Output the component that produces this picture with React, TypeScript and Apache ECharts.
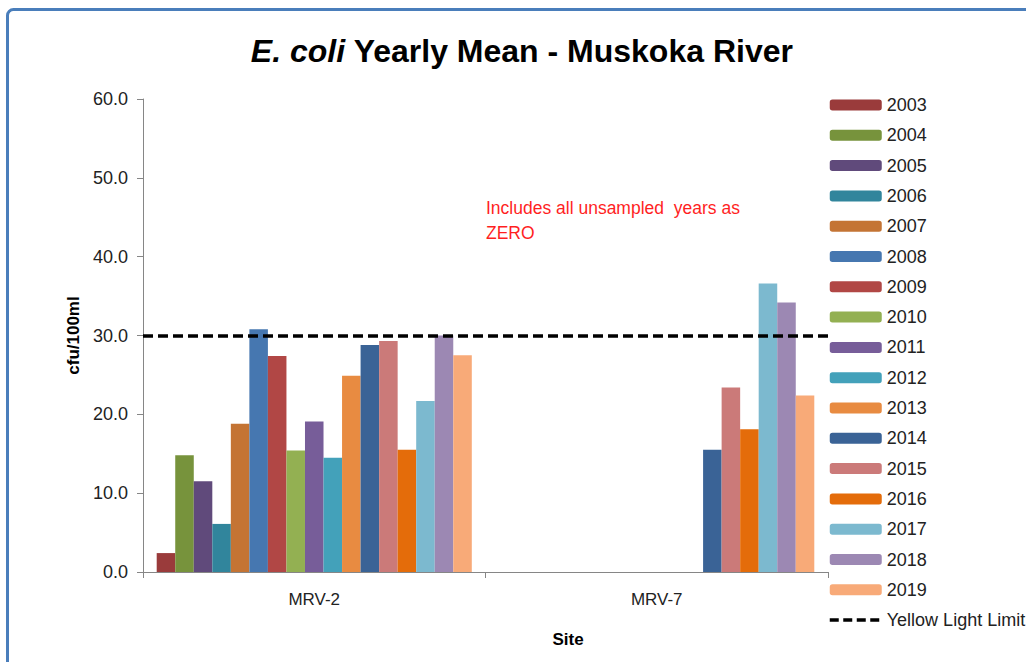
import React, { useEffect, useRef } from "react";
import * as echarts from "echarts";

const sites = ["MRV-2", "MRV-7"];
const years = ["2003","2004","2005","2006","2007","2008","2009","2010","2011","2012","2013","2014","2015","2016","2017","2018","2019"];
const mrv2 = [2.4, 14.8, 11.5, 6.1, 18.8, 30.8, 27.4, 15.4, 19.1, 14.5, 24.9, 28.8, 29.3, 15.5, 21.7, 30.0, 27.5];
const mrv7 = [0, 0, 0, 0, 0, 0, 0, 0, 0, 0, 0, 15.5, 23.4, 18.1, 36.6, 34.2, 22.4];
const colors = ["#9a3b3b","#77933c","#604a7b","#31859c","#c47434","#4677b0","#b14745","#93b052","#775d99","#43a1ba","#e88b41","#3a6396","#cb7a79","#e46c0a","#7cb9cf","#9c88b3","#f8aa78"];
const limitName = "Yellow Light Limit";
const limitValue = 30;
const yTicks = { min: 0, max: 60, interval: 10 };

const FONT = "'Liberation Sans', Arial, sans-serif";

export default function App() {
  const ref = useRef<HTMLDivElement>(null);
  useEffect(() => {
    if (!ref.current) return;
    const chart = echarts.init(ref.current, null, { renderer: "svg" });
    const barSeries = years.map((y, i) => ({
      name: y,
      type: "bar",
      data: [mrv2[i], mrv7[i]],
      barGap: "0%",
      barCategoryGap: "8%",
      itemStyle: { color: colors[i] },
    }));
    chart.setOption({
      animation: false,
      textStyle: { fontFamily: FONT },
      grid: { left: 143, top: 99, width: 685, height: 473, containLabel: false },
      graphic: [
        {
          type: "rect",
          shape: { x: 7.5, y: 9.5, width: 1100, height: 720, r: 6 },
          style: { fill: "none", stroke: "#4a7ebb", lineWidth: 3 },
          silent: true,
        },
        {
          type: "text",
          x: 522,
          y: 51,
          style: {
            text: "{i|E. coli} Yearly Mean - Muskoka River",
            textAlign: "center",
            textVerticalAlign: "middle",
            fontFamily: FONT,
            fontSize: 32,
            fontWeight: "bold",
            fill: "#000",
            rich: {
              i: {
                fontStyle: "italic",
                fontFamily: FONT,
                fontSize: 32,
                fontWeight: "bold",
                fill: "#000",
              },
            },
          },
        },
        {
          type: "text",
          x: 486,
          y: 195,
          style: {
            text: "Includes all unsampled  years as\nZERO",
            fontFamily: FONT,
            fontSize: 17.5,
            lineHeight: 25,
            fill: "#ff1f1f",
          },
        },
        {
          type: "text",
          x: 568,
          y: 639,
          style: {
            text: "Site",
            textAlign: "center",
            textVerticalAlign: "middle",
            fontFamily: FONT,
            fontSize: 17,
            fontWeight: "bold",
            fill: "#000",
          },
        },
      ],
      legend: {
        orient: "vertical",
        left: 828,
        top: 96,
        itemWidth: 52,
        itemHeight: 11,
        itemGap: 12.3,
        padding: 0,
        textStyle: { fontFamily: FONT, fontSize: 18, color: "#222" },
        data: [
          ...years,
          {
            name: limitName,
            itemStyle: { opacity: 0 },
            lineStyle: { color: "#000", width: 3.5, type: [9, 4.5] },
          },
        ],
      },
      xAxis: {
        type: "category",
        data: sites,
        axisLine: { lineStyle: { color: "#868686", width: 1 } },
        axisTick: { show: true, length: 6, lineStyle: { color: "#868686" } },
        axisLabel: { margin: 19, fontSize: 17, color: "#222", fontFamily: FONT },
      },
      yAxis: {
        type: "value",
        min: yTicks.min,
        max: yTicks.max,
        interval: yTicks.interval,
        name: "cfu/100ml",
        nameLocation: "middle",
        nameGap: 34,
        nameRotate: 90,
        nameTextStyle: { fontSize: 17, fontWeight: "bold", color: "#000", fontFamily: FONT },
        splitLine: { show: false },
        axisLine: { show: true, lineStyle: { color: "#868686", width: 1 } },
        axisTick: { show: true, length: 6, lineStyle: { color: "#868686" } },
        axisLabel: {
          margin: 15,
          fontSize: 18,
          color: "#222",
          fontFamily: FONT,
          formatter: (v: number) => v.toFixed(1),
        },
      },
      series: [
        ...barSeries,
        {
          name: limitName,
          type: "line",
          data: [],
          symbol: "none",
          itemStyle: { color: "#000" },
          lineStyle: { color: "#000", width: 3.5, type: [10, 5] },
          markLine: {
            silent: true,
            symbol: "none",
            label: { show: false },
            lineStyle: { color: "#000", width: 3.5, type: [10, 5] },
            data: [{ yAxis: limitValue }],
          },
          z: 10,
        },
      ],
    });
    return () => chart.dispose();
  }, []);
  return (
    <div
      ref={ref}
      style={{ position: "absolute", left: 0, top: 0, width: 1026, height: 662, background: "#fff" }}
    />
  );
}
